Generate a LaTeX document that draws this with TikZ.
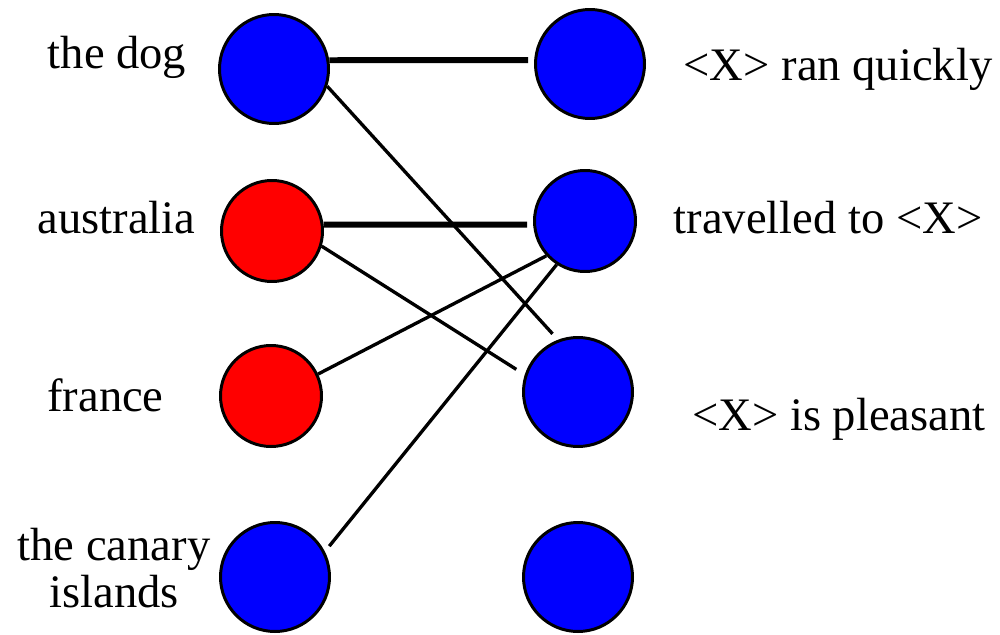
\documentclass[tikz,border=0pt]{standalone}
\usepackage{xcolor}
\usepackage{fontspec}
\setmainfont{Liberation Serif}
\usepackage{tikz}
\definecolor{dotblue}{RGB}{0,0,255}
\definecolor{dotred}{RGB}{255,0,0}

\begin{document}
\begin{tikzpicture}[
  dot/.style={circle, draw=black, line width=1.7pt, minimum size=2.18cm, inner sep=0pt},
  small/.style={minimum size=2.02cm},
  word/.style={anchor=base, inner sep=0pt, font=\fontsize{26.5}{26.7}\selectfont},
  strong/.style={line width=3.4pt},
  weak/.style={line width=1.9pt}]
\useasboundingbox (0,0) rectangle (20,-12.7);
\node[dot, fill=dotblue] (dog) at (5.48,-1.38) {};
\node[dot, small, fill=dotred] (aus) at (5.44,-4.62) {};
\node[dot, small, fill=dotred] (fra) at (5.42,-7.92) {};
\node[dot, fill=dotblue] (can) at (5.5,-11.54) {};
\node[dot, fill=dotblue] (ran) at (11.8,-1.28) {};
\node[dot, small, fill=dotblue] (trav) at (11.7,-4.42) {};
\node[dot, fill=dotblue] (pleas) at (11.56,-7.84) {};
\node[dot, fill=dotblue] (spare) at (11.56,-11.54) {};
\node[word] (tdog) at (2.34,-1.36) {the dog};
\node[word] (taus) at (2.33,-4.66) {australia};
\node[word] (tfra) at (2.11,-8.22) {france};
\node[word, align=center] (tcan) at (2.28,-12.14) {the canary\\islands};
\node[word] (tran) at (16.76,-1.6) {<X> ran quickly};
\node[word] (ttrav) at (16.56,-4.66) {travelled to <X>};
\node[word] (tpleas) at (16.78,-8.6) {<X> is pleasant};
\draw[strong, shorten >=0.12cm] (dog.9) -- (ran.176);
\draw[strong, shorten >=0.12cm] (aus.7) -- (trav.184);
\draw[weak, shorten >=0.16cm] (dog.-18) -- (pleas.111);
\draw[weak, shorten >=0.2cm] (aus.-17) -- (pleas.162);
\draw[weak] (fra.25) -- (trav.-138);
\draw[weak, shorten <=0.14cm] (can.27) -- (trav.-123);
\end{tikzpicture}
\end{document}
